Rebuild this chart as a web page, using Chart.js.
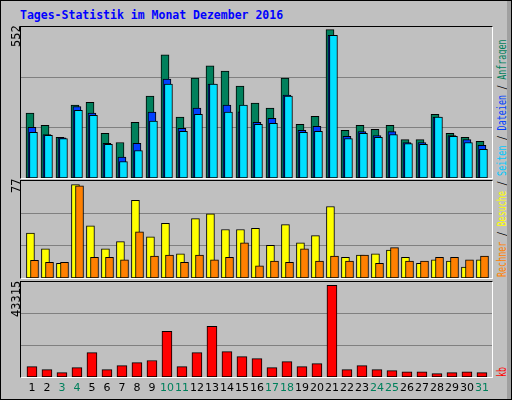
<!DOCTYPE html>
<html><head><meta charset="utf-8">
<script src="https://cdn.jsdelivr.net/npm/chart.js@4/dist/chart.umd.min.js"></script>
<style>
body{margin:0;background:#fff}
#f{position:absolute;left:0;top:0;width:510px;height:398px;background:#c0c0c0;border:1px solid #000;overflow:hidden}
#f:after{content:"";position:absolute;right:0;top:0;width:4px;height:100%;background:#a0a0a0}
.p{position:absolute;left:19px;width:471px;border-top:1px solid #000;border-left:1px solid #000;border-right:1px solid #fff;border-bottom:1px solid #fff}
.p canvas{display:block}
.t{position:absolute;font-family:"DejaVu Sans Mono",monospace;font-size:12px;white-space:nowrap}
.r{transform-origin:0 0;transform:rotate(-90deg)}
.rr{transform-origin:0 0;transform:rotate(-90deg) scaleX(0.73)}
.d{position:absolute;top:380px;font-family:"DejaVu Sans",sans-serif;font-size:11px;width:20px;text-align:center}
</style></head><body>
<div id="f">
<div class="t" style="left:19px;top:7px;color:#0000ff;font-weight:bold;font-size:11.5px">Tages-Statistik im Monat Dezember 2016</div>
<div class="p" style="top:25px;height:151px"><canvas id="c1" width="471" height="151"></canvas></div>
<div class="p" style="top:179px;height:97px"><canvas id="c2" width="471" height="97"></canvas></div>
<div class="p" style="top:280px;height:95px"><canvas id="c3" width="471" height="95"></canvas></div>
<div class="t r" style="left:8px;top:46px">552</div>
<div class="t r" style="left:8px;top:192px">77</div>
<div class="t r" style="left:8px;top:316px">43315</div>
<div class="t rr" style="left:494px;top:276px;font-size:11.5px"><span style="color:#ff8000">Rechner</span> / <span style="color:#ffff00">Besuche</span> / <span style="color:#00c8ff">Seiten</span> / <span style="color:#0040ff">Dateien</span> / <span style="color:#00805c">Anfragen</span></div>
<div class="t rr" style="left:494px;top:376px;color:#ff0000;font-size:11.5px">kb</div>
<div id="days"></div>
</div>
<script>
const days=[1,2,3,4,5,6,7,8,9,10,11,12,13,14,15,16,17,18,19,20,21,22,23,24,25,26,27,28,29,30,31];
const weekend=[3,4,10,11,17,18,24,25,31];
const anfragen=[243,197,152,273,284,167,133,209,307,462,228,375,420,401,345,281,262,375,201,231,556,179,197,182,197,144,144,239,167,152,137];
const dateien=[190,163,151,268,243,130,78,130,247,371,186,262,352,273,248,209,224,311,179,194,535,156,174,159,174,133,133,228,159,144,122];
const seiten=[171,160,148,254,235,126,62,103,213,352,175,239,352,247,273,201,205,307,171,175,535,148,167,152,163,129,126,228,156,133,107];
const besuche=[37,24,12,77,43,24,30,64,34,45,20,49,53,40,40,41,27,44,29,35,59,17,19,20,23,17,12,15,14,9,15];
const rechner=[14.5,13,13,76,17,17,15,38,18,19,13,19,15,17,29,10,14,13,24,14,18,14,19,12,25,14,14,17,17,15,18];
const kb=[4900,3500,2100,4400,11500,3500,5400,6800,7800,21600,4900,11500,23900,12000,9600,8700,4400,7300,4900,6300,43315,3500,5400,3500,3000,2500,2500,1600,2100,2500,2100];

const X0=0.27,X1=31.67;
function ds(vals,off,color,w,ord){return{data:vals.map((v,i)=>({x:days[i]+off,y:v})),backgroundColor:color,borderColor:'#000',borderWidth:1,barThickness:w,borderSkipped:false,grouped:false,order:ord};}
function mk(id,sets,max){
  new Chart(document.getElementById(id),{type:'bar',data:{datasets:sets},
  options:{responsive:false,animation:false,events:[],layout:{padding:0},
   plugins:{legend:{display:false},tooltip:{enabled:false}},
   scales:{x:{type:'linear',min:X0,max:X1,offset:false,display:false},
     y:{min:0,max:max,afterBuildTicks:a=>{a.ticks=[{value:max/3},{value:2*max/3}];},
        ticks:{display:false},grid:{color:'#808080',lineWidth:1,drawTicks:false},border:{display:false}}}}});
}
mk('c1',[ds(anfragen,-0.13,'#00805c',8,3),ds(dateien,0,'#0040ff',8,2),ds(seiten,0.1,'#00e0ff',8,1)],566);
mk('c2',[ds(besuche,-0.1,'#ffff00',8,2),ds(rechner,0.17,'#ff8000',8,1)],80);
mk('c3',[ds(kb,0,'#ff0000',10,1)],44900);
const dd=document.getElementById('days');
days.forEach(d=>{const s=document.createElement('div');s.className='d';s.textContent=d;
 s.style.left=(20+(d-X0)*471/(X1-X0)-10)+'px';s.style.color=weekend.includes(d)?'#00805c':'#000';dd.appendChild(s);});
</script>
</body></html>
